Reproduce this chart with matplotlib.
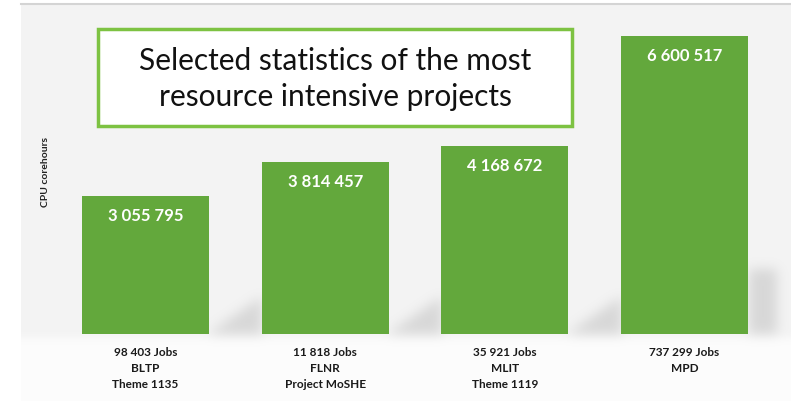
import matplotlib
matplotlib.use("Agg")
import matplotlib.pyplot as plt
from matplotlib.patches import Rectangle
import numpy as np

# CPU core-hours of the most resource-intensive projects
values = [3055795, 3814457, 4168672, 6600517]
value_labels = ["3 055 795", "3 814 457", "4 168 672", "6 600 517"]
category_labels = [
    "98 403 Jobs\nBLTP\nTheme 1135",
    "11 818 Jobs\nFLNR\nProject MoSHE",
    "35 921 Jobs\nMLIT\nTheme 1119",
    "737 299 Jobs\nMPD",
]
title = "Selected statistics of the most\nresource intensive projects"
ylabel = "CPU corehours"

W, H = 791, 401
fig = plt.figure(figsize=(W / 100, H / 100), dpi=100)
fig.patch.set_facecolor("white")

base_px = 334
pitch = 179.7
first_center = 145.5
bar_w_px = 127


def blur(img, r):
    k = np.exp(-0.5 * (np.arange(-3 * r, 3 * r + 1) / r) ** 2)
    k /= k.sum()
    n = len(k) // 2
    p = np.pad(img, n, mode="edge")
    p = np.apply_along_axis(lambda m: np.convolve(m, k, mode="valid"), 0, p)
    p = np.apply_along_axis(lambda m: np.convolve(m, k, mode="valid"), 1, p)
    return p


# soft slide background with a faint floor shadow next to the bars
yy, xx = np.mgrid[0:H, 0:W].astype(float)
shade = np.where(yy < base_px + 4, 0.955, 0.99)
shadow = np.zeros((H, W))
for i in range(1, 4):
    left = first_center + i * pitch - bar_w_px / 2
    t = (xx - (left - 55)) / 55
    inside = (t > 0) & (t < 1) & (yy < base_px) & (yy > base_px - 38 * t)
    shadow[inside] = 1.0
right4 = first_center + 3 * pitch + bar_w_px / 2
shadow[(xx > right4) & (xx < right4 + 28) & (yy > 268) & (yy < base_px)] = 1.0
shadow = blur(shadow, 6)
shade = blur(shade, 4) - 0.11 * shadow
shade[:, :21] = 1.0
shade[:5, :] = 1.0
bg = fig.add_axes([0, 0, 1, 1])
bg.set_axis_off()
bg.imshow(np.dstack([shade, shade, shade]), aspect="auto", origin="upper",
          extent=[0, W, H, 0], vmin=0, vmax=1, interpolation="bilinear")
bg.set_xlim(0, W)
bg.set_ylim(H, 0)
fig.add_artist(plt.Line2D([21 / W, 1], [1 - 4 / H, 1 - 4 / H],
                          color="#d4d4d4", lw=1.5, transform=fig.transFigure))

# bar axes: zero at 334 px from top, 45.1 px per million core-hours
px_per_unit = 45.1e-6
ax = fig.add_axes([0, (H - base_px) / H, 1, (base_px - 4) / H])
ax.set_axis_off()
ax.patch.set_alpha(0)
ax.set_xlim(-first_center / pitch, (W - first_center) / pitch)
ax.set_ylim(0, (base_px - 4) / px_per_unit)

x = np.arange(len(values))
bars = ax.bar(x, values, width=bar_w_px / pitch, color="#63a83c",
              edgecolor="none")

for xi, v, lab in zip(x, values, value_labels):
    ax.annotate(lab, (xi, v), xytext=(0, -20), textcoords="offset pixels",
                ha="center", va="center", color="white", fontsize=12,
                fontweight="bold", family="Lato")

for xi, lab in zip(x, category_labels):
    ax.annotate(lab, (xi, 0), xytext=(0, -13), textcoords="offset pixels",
                ha="center", va="top", color="#1a1a1a", fontsize=8.5,
                fontweight="bold", family="Lato", linespacing=1.55)

fig.text(46 / W, 1 - 172 / H, ylabel, rotation=90, ha="center", va="center",
         fontsize=7.5, fontweight="bold", family="Lato", color="#222222")

# title box
box = Rectangle((98 / W, 1 - 126 / H), (572 - 98) / W, (126 - 29) / H,
                transform=fig.transFigure, facecolor="white",
                edgecolor="#7dc242", lw=2.5, zorder=5)
fig.add_artist(box)
fig.text((98 + 572) / 2 / W, 1 - 79 / H, title, ha="center", va="center",
         fontsize=21.5, family="Lato", color="#111111", linespacing=1.38,
         zorder=6)

fig.savefig("out.png", dpi=100)
